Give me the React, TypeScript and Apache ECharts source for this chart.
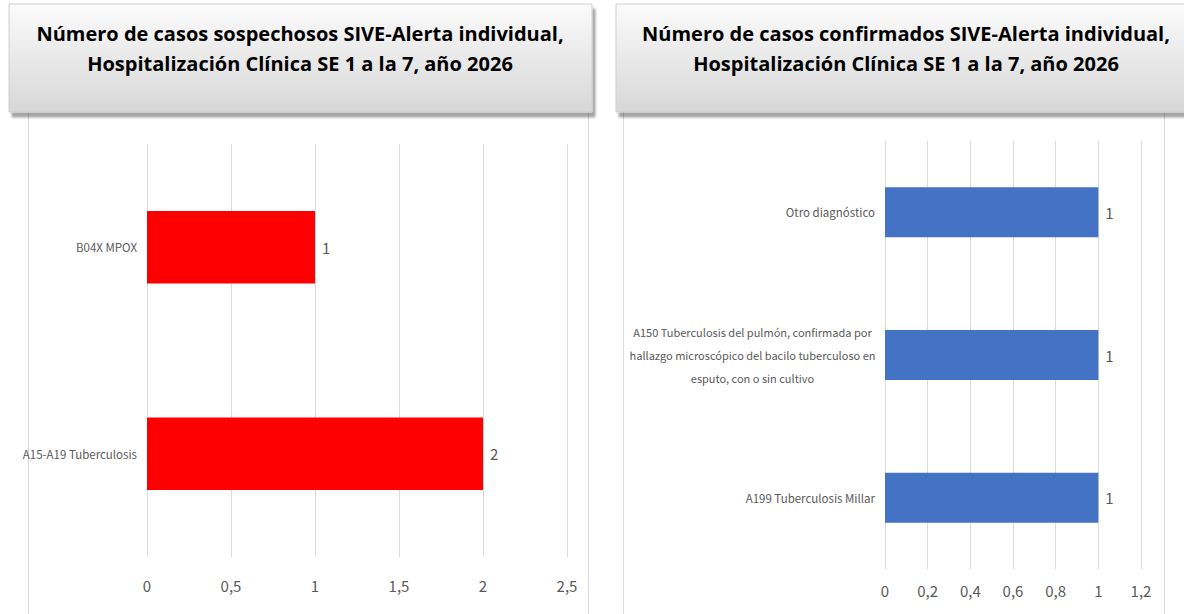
import React, { useEffect, useRef } from "react";
import * as echarts from "echarts";

const leftTitle = [
  "Número de casos sospechosos SIVE-Alerta individual,",
  "Hospitalización Clínica SE 1 a la 7, año 2026",
];
const rightTitle = [
  "Número de casos confirmados SIVE-Alerta individual,",
  "Hospitalización Clínica SE 1 a la 7, año 2026",
];

const leftCategories = ["A15-A19 Tuberculosis", "B04X MPOX"];
const leftValues = [2, 1];

const rightCategories = [
  "A199 Tuberculosis Millar",
  "A150 Tuberculosis del pulmón, confirmada por hallazgo microscópico del bacilo tuberculoso en esputo, con o sin cultivo",
  "Otro diagnóstico",
];
const rightValues = [1, 1, 1];

const leftTicks = { min: 0, max: 2.5, interval: 0.5 };
const rightTicks = { min: 0, max: 1.2, interval: 0.2 };

const LABEL_FONT = "'Noto Sans CJK SC', 'DejaVu Sans Condensed', sans-serif";
const TITLE_FONT = "'Open Sans', 'Noto Sans', sans-serif";
const GREY = "#595959";

function wrap(text: string, maxChars: number): string {
  const words = text.split(" ");
  const lines: string[] = [];
  let cur = "";
  for (const w of words) {
    const next = cur ? cur + " " + w : w;
    if (next.length > maxChars && cur) {
      lines.push(cur);
      cur = w;
    } else {
      cur = next;
    }
  }
  if (cur) lines.push(cur);
  return lines.join("\n");
}

function fmtNum(v: number): string {
  return String(Math.round(v * 10) / 10).replace(".", ",");
}

function titleBox(x: number, w: number, cx: number, lines: string[]) {
  return [
    {
      type: "rect",
      shape: { x, y: 4, width: w, height: 108 },
      style: {
        fill: new echarts.graphic.LinearGradient(0, 0, 0, 1, [
          { offset: 0, color: "#fbfbfb" },
          { offset: 1, color: "#d7d7d7" },
        ]),
        stroke: "#cfcfcf",
        lineWidth: 1,
        shadowBlur: 2,
        shadowOffsetX: 3,
        shadowOffsetY: 5,
        shadowColor: "rgba(0,0,0,0.35)",
      },
      z: 10,
    },
    {
      type: "text",
      x: cx,
      y: 48,
      style: {
        text: lines.join("\n"),
        fill: "#000000",
        font: `700 20px ${TITLE_FONT}`,
        lineHeight: 30,
        align: "center",
        verticalAlign: "middle",
      },
      z: 11,
    },
  ];
}

export default function App() {
  const ref = useRef<HTMLDivElement>(null);

  useEffect(() => {
    document.body.style.margin = "0";
    if (!ref.current) return;
    const chart = echarts.init(ref.current, null, { renderer: "svg" });

    const labelStyle = { color: GREY, fontFamily: LABEL_FONT, fontSize: 11.5 };
    const longStyle = { color: GREY, fontFamily: LABEL_FONT, fontSize: 11 };
    const numStyle = { color: GREY, fontFamily: LABEL_FONT, fontSize: 15 };

    chart.setOption({
      animation: false,
      backgroundColor: "#ffffff",
      graphic: {
        elements: [
          {
            type: "rect",
            shape: { x: 28.5, y: 110, width: 560, height: 530 },
            style: { fill: "#ffffff", stroke: "#d9d9d9", lineWidth: 1 },
            z: -5,
          },
          {
            type: "rect",
            shape: { x: 623.5, y: 110, width: 541, height: 530 },
            style: { fill: "#ffffff", stroke: "#d9d9d9", lineWidth: 1 },
            z: -5,
          },
          ...titleBox(9, 583, 300, leftTitle),
          ...titleBox(616, 590, 906, rightTitle),
        ],
      },
      grid: [
        { left: 147, top: 144, width: 420, height: 413 },
        { left: 885, top: 141, width: 256, height: 428 },
      ],
      xAxis: [
        {
          type: "value",
          gridIndex: 0,
          min: leftTicks.min,
          max: leftTicks.max,
          interval: leftTicks.interval,
          axisLine: { show: false },
          axisTick: { show: false },
          splitLine: { show: true, lineStyle: { color: "#d9d9d9", width: 1 } },
          axisLabel: { ...numStyle, margin: 21, formatter: (v: number) => fmtNum(v) },
        },
        {
          type: "value",
          gridIndex: 1,
          min: rightTicks.min,
          max: rightTicks.max,
          interval: rightTicks.interval,
          axisLine: { show: false },
          axisTick: { show: false },
          splitLine: { show: true, lineStyle: { color: "#d9d9d9", width: 1 } },
          axisLabel: { ...numStyle, margin: 14, formatter: (v: number) => fmtNum(v) },
        },
      ],
      yAxis: [
        {
          type: "category",
          gridIndex: 0,
          data: leftCategories,
          axisLine: { show: false },
          axisTick: { show: false },
          splitLine: { show: false },
          axisLabel: { ...labelStyle, margin: 10 },
        },
        {
          type: "category",
          gridIndex: 1,
          data: rightCategories,
          axisLine: { show: false },
          axisTick: { show: false },
          splitLine: { show: false },
          axisLabel: {
            ...labelStyle,
            margin: 10,
            lineHeight: 23,
            formatter: (v: string) => {
              const w = wrap(v, 47);
              return w.indexOf("\n") >= 0 ? `{c|${w}}` : `{r|${w}}`;
            },
            rich: {
              c: { ...longStyle, align: "center", lineHeight: 23, width: 245 },
              r: { ...labelStyle, align: "right" },
            },
          },
        },
      ],
      series: [
        {
          type: "bar",
          xAxisIndex: 0,
          yAxisIndex: 0,
          data: leftValues,
          barWidth: "35%",
          itemStyle: { color: "#ff0000" },
          label: { show: true, position: "right", distance: 7, ...numStyle },
        },
        {
          type: "bar",
          xAxisIndex: 1,
          yAxisIndex: 1,
          data: rightValues,
          barWidth: "35%",
          itemStyle: { color: "#4472c4" },
          label: { show: true, position: "right", distance: 7, ...numStyle },
        },
      ],
    });

    return () => chart.dispose();
  }, []);

  return (
    <div
      ref={ref}
      style={{ position: "fixed", left: 0, top: 0, width: 1184, height: 614 }}
    />
  );
}
